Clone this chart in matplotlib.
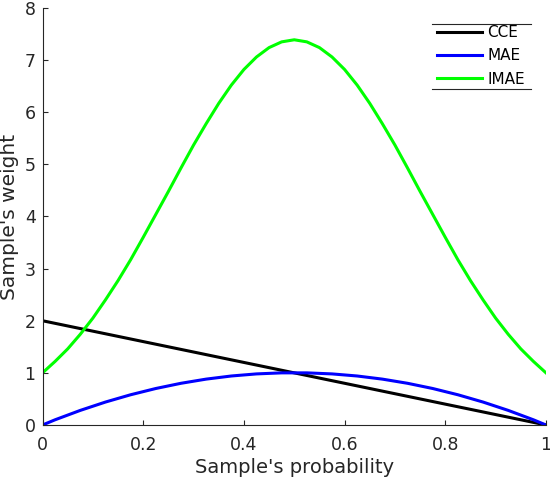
import matplotlib
matplotlib.use("Agg")
import matplotlib.pyplot as plt
from matplotlib.lines import Line2D

# sample probability (x axis)
prob = [0.0, 0.025, 0.05, 0.075, 0.1, 0.125, 0.15, 0.175, 0.2, 0.225, 0.25,
        0.275, 0.3, 0.325, 0.35, 0.375, 0.4, 0.425, 0.45, 0.475, 0.5,
        0.525, 0.55, 0.575, 0.6, 0.625, 0.65, 0.675, 0.7, 0.725, 0.75,
        0.775, 0.8, 0.825, 0.85, 0.875, 0.9, 0.925, 0.95, 0.975, 1.0]

cce = [2.0, 1.95, 1.9, 1.85, 1.8, 1.75, 1.7, 1.65, 1.6, 1.55, 1.5,
       1.45, 1.4, 1.35, 1.3, 1.25, 1.2, 1.15, 1.1, 1.05, 1.0,
       0.95, 0.9, 0.85, 0.8, 0.75, 0.7, 0.65, 0.6, 0.55, 0.5,
       0.45, 0.4, 0.35, 0.3, 0.25, 0.2, 0.15, 0.1, 0.05, 0.0]

mae = [0.0, 0.1, 0.19, 0.28, 0.36, 0.44, 0.51, 0.58, 0.64, 0.7, 0.75,
       0.8, 0.84, 0.88, 0.91, 0.94, 0.96, 0.98, 0.99, 1.0, 1.0,
       1.0, 0.99, 0.98, 0.96, 0.94, 0.91, 0.88, 0.84, 0.8, 0.75,
       0.7, 0.64, 0.58, 0.51, 0.44, 0.36, 0.28, 0.19, 0.1, 0.0]

imae = [1.0, 1.22, 1.46, 1.74, 2.05, 2.4, 2.77, 3.17, 3.6, 4.04, 4.48,
        4.93, 5.37, 5.78, 6.17, 6.52, 6.82, 7.06, 7.24, 7.35, 7.39,
        7.35, 7.24, 7.06, 6.82, 6.52, 6.17, 5.78, 5.37, 4.93, 4.48,
        4.04, 3.6, 3.17, 2.77, 2.4, 2.05, 1.74, 1.46, 1.22, 1.0]

grey = "#262626"

fig = plt.figure(figsize=(5.5, 4.78), dpi=100)
ax = fig.add_axes([0.0773, 0.1109, 0.9154, 0.8724])

lw = 2.2
ax.plot(prob, cce, color="black", lw=lw, label="CCE")
ax.plot(prob, mae, color="#0000ff", lw=lw, label="MAE")
ax.plot(prob, imae, color="#00ff00", lw=lw, label="IMAE")

ax.set_xlim(0, 1)
ax.set_ylim(0, 8)
ax.set_xticks([0, 0.2, 0.4, 0.6, 0.8, 1])
ax.set_xticklabels(["0", "0.2", "0.4", "0.6", "0.8", "1"])
ax.set_yticks(range(9))
ax.spines["top"].set_visible(False)
ax.spines["right"].set_visible(False)
for s in ["left", "bottom"]:
    ax.spines[s].set_color(grey)
    ax.spines[s].set_linewidth(0.8)
ax.tick_params(direction="in", length=3.6, width=0.8, colors=grey,
               labelsize=12.5)
ax.tick_params(axis="x", pad=8)
ax.tick_params(axis="y", pad=5)
ax.set_xlabel("Sample's probability", fontsize=14, color=grey, labelpad=3)
ax.set_ylabel("Sample's weight", fontsize=14.5, color=grey, labelpad=4)

leg = ax.legend(loc="upper left", bbox_to_anchor=(437 / 550, 1 - 25 / 478),
                bbox_transform=fig.transFigure, frameon=False,
                fontsize=11, handlelength=2.95, handletextpad=0.33,
                labelspacing=0.55, borderpad=0, borderaxespad=0)
for t in leg.get_texts():
    t.set_color("black")

# legend box shows only top and bottom rules
for yy in [1 - 24 / 478, 1 - 89 / 478]:
    fig.add_artist(Line2D([432 / 550, 531 / 550], [yy, yy], color=grey,
                          lw=0.8, transform=fig.transFigure))

fig.savefig("out.png", dpi=100)
